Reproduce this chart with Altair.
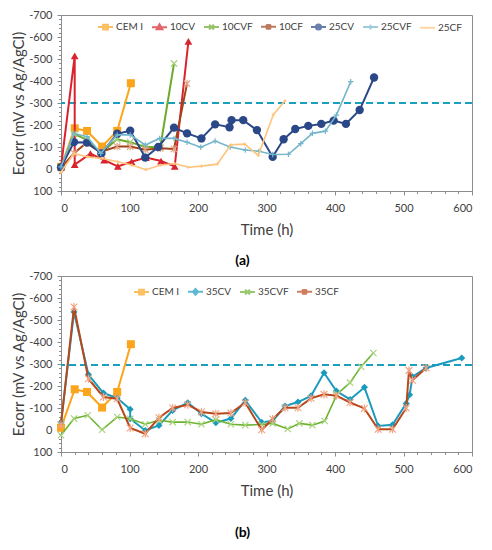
import altair as alt
import pandas as pd

FONT = "Lato"
GREY = "#8c8c8c"
TXT = "#404040"

# ---------------- data: panel (a) ----------------
cem_t = [0, 20, 38, 60, 82, 102]
cem_e = [-10, -185, -173, -102, -173, -390]

cv10_t = [0, 20, 20, 43, 63, 83, 103, 124, 146, 166, 186]
cv10_e = [-8, -514, -20, -70, -40, -12, -33, -52, -36, -12, -580]

cvf10_t = [0, 19, 38, 58, 82, 101, 123, 145, 165]
cvf10_e = [-5, -160, -132, -72, -135, -122, -100, -100, -480]

cf10_t = [0, 19, 37, 58, 82, 101, 123, 145, 165, 184]
cf10_e = [-5, -72, -118, -78, -102, -102, -88, -94, -91, -388]

cv25_t = [0, 19, 38, 59, 82, 101, 123, 142, 165, 184, 205, 225, 246, 249, 266, 286, 309, 325, 342, 361, 380, 398, 416, 436, 457]
cv25_e = [-8, -122, -120, -71, -160, -174, -52, -100, -188, -162, -139, -203, -190, -222, -222, -177, -55, -135, -182, -196, -205, -220, -205, -268, -416]

cvf25_t = [0, 19, 38, 58, 82, 101, 123, 144, 165, 184, 204, 225, 247, 269, 289, 309, 332, 350, 367, 386, 402, 423]
cvf25_e = [-10, -162, -147, -71, -155, -155, -109, -139, -139, -122, -99, -127, -100, -86, -81, -66, -67, -115, -162, -172, -245, -397]

cf25_t = [0, 19, 39, 60, 83, 103, 124, 145, 166, 186, 205, 228, 248, 268, 288, 310, 327]
cf25_e = [15, -71, -55, -48, -33, -18, 3, -17, -25, -8, -13, -22, -110, -113, -62, -247, -310]

# ---------------- data: panel (b) ----------------
cv35_t = [0, 19, 40, 62, 82, 101, 101, 123, 143, 163, 185, 205, 226, 248, 269, 293, 309, 327, 346, 365, 384, 402, 422, 443, 463, 484, 504, 509, 513, 533, 585]
cv35_e = [-35, -536, -252, -168, -145, -94, -51, 2, -21, -89, -124, -74, -33, -52, -135, -35, -41, -109, -127, -155, -260, -177, -139, -194, -18, -24, -121, -160, -242, -282, -327]

cvf35_t = [0, 19, 39, 60, 82, 101, 123, 143, 163, 185, 205, 226, 248, 269, 293, 309, 331, 348, 367, 385, 403, 422, 438, 456]
cvf35_e = [24, -52, -67, -1, -59, -51, -26, -44, -36, -36, -26, -47, -26, -22, -25, -30, -5, -30, -22, -41, -163, -215, -288, -350]

cf35_t = [0, 19, 40, 62, 82, 101, 123, 143, 163, 185, 205, 226, 248, 269, 293, 309, 327, 346, 365, 384, 402, 422, 443, 463, 484, 504, 508, 513, 533]
cf35_e = [-25, -559, -233, -150, -142, -9, 17, -56, -100, -115, -82, -74, -77, -124, -1, -50, -101, -101, -144, -162, -156, -125, -98, -3, -3, -100, -271, -226, -282]

threshold_a = [-300]
threshold_b = [-295]

series_a = ["CEM I", "10CV", "10CVF", "10CF", "25CV", "25CVF", "25CF"]
series_b = ["CEM I", "35CV", "35CVF", "35CF"]

raw = {
    "CEM I": (cem_t, cem_e), "10CV": (cv10_t, cv10_e), "10CVF": (cvf10_t, cvf10_e),
    "10CF": (cf10_t, cf10_e), "25CV": (cv25_t, cv25_e), "25CVF": (cvf25_t, cvf25_e),
    "25CF": (cf25_t, cf25_e), "35CV": (cv35_t, cv35_e), "35CVF": (cvf35_t, cvf35_e),
    "35CF": (cf35_t, cf35_e),
}

# ---------------- styles ----------------
CROSS = "M-1,-1L1,1M-1,1L1,-1"
STAR = "M-1,-1L1,1M-1,1L1,-1M0,-1.2L0,1.2"
PLUS = "M-1,0L1,0M0,-1L0,1"
L = "M-1,0H1"
LX = "M-0.32,-0.32L0.32,0.32M-0.32,0.32L0.32,-0.32"
style = {
    "CEM I": dict(color="#FBA51C", mcolor="#FBA51C", shape="square", filled=True, size=64, lw=2,
                  leg=L + "M-0.32,-0.32H0.32V0.32H-0.32Z"),
    "10CV": dict(color="#D9232D", mcolor="#D9232D", shape="triangle-up", filled=True, size=60, lw=2,
                 leg=L + "M0,-0.4L0.38,0.26H-0.38Z"),
    "10CVF": dict(color="#6BAA2C", mcolor="#A5CF78", shape=CROSS, filled=False, size=40, lw=2,
                  leg=L + LX),
    "10CF": dict(color="#A3431B", mcolor="#E3A282", shape=STAR, filled=False, size=40, lw=2,
                 leg=L + LX + "M0,-0.38V0.38"),
    "25CV": dict(color="#2A4788", mcolor="#2A4788", shape="circle", filled=True, size=70, lw=2,
                 leg=L + "M0.34,0A0.34,0.34 0 1,1 -0.34,0A0.34,0.34 0 1,1 0.34,0Z"),
    "25CVF": dict(color="#74B6CB", mcolor="#74B6CB", shape=PLUS, filled=False, size=30, lw=1.6,
                  leg=L + "M0,-0.32V0.32"),
    "25CF": dict(color="#FFC47C", mcolor="#FFC47C", shape=PLUS, filled=False, size=10, lw=1.6,
                 leg=L),
    "35CV": dict(color="#1A9BBE", mcolor="#1A9BBE", shape="diamond", filled=True, size=50, lw=2,
                 leg=L + "M0,-0.38L0.34,0L0,0.38L-0.34,0Z"),
    "35CVF": dict(color="#6DB330", mcolor="#A8D47E", shape=CROSS, filled=False, size=40, lw=1.6,
                  leg=L + LX),
    "35CF": dict(color="#B8471A", mcolor="#F0A585", shape=STAR, filled=False, size=45, lw=2,
                 leg=L + LX + "M0,-0.38V0.38"),
}

W, H = 411, 176
xscale = alt.Scale(domain=[0, 600], nice=False)
yscale = alt.Scale(domain=[-700, 100], reverse=True, nice=False)
LABEL_EXPR = "datum.value < 0 ? '-' + (-datum.value) : '' + datum.value"


def make_panel(series, thr, legend_x, legend_y, caption, cap_offset):
    rows = []
    for s in series:
        ts, es = raw[s]
        for i, (t, e) in enumerate(zip(ts, es)):
            rows.append({"series": s, "t": t, "e": e, "i": i})
    df = pd.DataFrame(rows)
    base = alt.Chart(df)

    x_none = alt.X("t:Q", scale=xscale, axis=None)
    y_none = alt.Y("e:Q", scale=yscale, axis=None)

    layers = []
    rule = alt.Chart(pd.DataFrame({"e": thr})).mark_rule(
        color="#1AA0BF", strokeWidth=2, strokeDash=[7, 4]
    ).encode(y=y_none)
    layers.append(rule)

    for s in series:
        st = style[s]
        sub = base.transform_filter(alt.datum.series == s)
        layers.append(
            sub.mark_line(color=st["color"], strokeWidth=st["lw"]).encode(
                x=x_none, y=y_none, order="i:Q")
        )
        pt = dict(shape=st["shape"], size=st["size"], opacity=1)
        if st["filled"]:
            pt.update(filled=True, color=st["mcolor"])
        else:
            pt.update(filled=False, color=st["mcolor"], strokeWidth=1.2)
        layers.append(sub.mark_point(**pt).encode(x=x_none, y=y_none))

    leg = alt.Legend(
        orient="none", legendX=legend_x, legendY=legend_y, direction="horizontal",
        title=None, symbolSize=225, symbolStrokeWidth=2, labelFont=FONT,
        labelFontSize=10, labelColor=TXT, columnPadding=4, labelOffset=2, padding=0,
    )
    colors = [style[s]["color"] for s in series]
    paths = [style[s]["leg"] for s in series]

    x_main = alt.Axis(values=list(range(0, 601, 100)), title="Time (h)", grid=False,
                      orient="bottom", tickSize=4, labelPadding=7, titlePadding=9,
                      labelFont=FONT, titleFont=FONT, labelFontSize=11, titleFontSize=15,
                      titleFontWeight="normal", labelColor=TXT, titleColor=TXT,
                      domainColor=GREY, tickColor=GREY, format="d")
    y_main = alt.Axis(values=list(range(-700, 101, 100)), title="Ecorr (mV vs Ag/AgCl)",
                      grid=False, orient="left", tickSize=4, labelPadding=5, titlePadding=2,
                      labelFont=FONT, titleFont=FONT, labelFontSize=11, titleFontSize=15,
                      titleFontWeight="normal", labelColor=TXT, titleColor=TXT,
                      domainColor=GREY, tickColor=GREY, labelExpr=LABEL_EXPR)
    legend_layer = base.transform_filter("datum.t < -1000").mark_point(
        filled=True, strokeWidth=2
    ).encode(
        x=alt.X("t:Q", scale=xscale, axis=x_main),
        y=alt.Y("e:Q", scale=yscale, axis=y_main),
        fill=alt.Fill("series:N", scale=alt.Scale(domain=series, range=colors), legend=leg),
        stroke=alt.Stroke("series:N", scale=alt.Scale(domain=series, range=colors), legend=leg),
        shape=alt.Shape("series:N", scale=alt.Scale(domain=series, range=paths), legend=leg),
    )
    layers.append(legend_layer)

    x_minor = alt.Axis(values=[v for v in range(0, 601, 20) if v % 100], labels=False,
                       domain=False, grid=False, orient="bottom", tickSize=2.5,
                       tickColor=GREY, title=None)
    y_minor = alt.Axis(values=[v for v in range(-700, 101, 20) if v % 100], labels=False,
                       domain=False, grid=False, orient="left", tickSize=2.5,
                       tickColor=GREY, title=None)
    minor_layer = base.transform_filter("datum.t < -1000").mark_point().encode(
        x=alt.X("t:Q", scale=xscale, axis=x_minor),
        y=alt.Y("e:Q", scale=yscale, axis=y_minor),
    )
    layers.append(minor_layer)

    return alt.layer(*layers).resolve_axis(x="independent", y="independent").properties(
        width=W, height=H,
        title=alt.TitleParams(caption, orient="bottom", font=FONT, fontSize=14,
                              fontWeight="bold", color="black", dx=-24, offset=cap_offset),
    )


pa = make_panel(series_a, threshold_a, 36, 3, "(a)", 17)
pb = make_panel(series_b, threshold_b, 72, 7, "(b)", 28)

chart = alt.vconcat(pa, pb, spacing=0).resolve_scale(
    fill="independent", stroke="independent", shape="independent"
).resolve_legend(fill="independent", stroke="independent", shape="independent").properties(
    padding={"left": 3, "top": 0, "right": 0, "bottom": 0}
).configure_view(
    stroke=GREY, strokeWidth=1
)

chart.save("out.html", embed_options={"renderer": "svg", "actions": False})
